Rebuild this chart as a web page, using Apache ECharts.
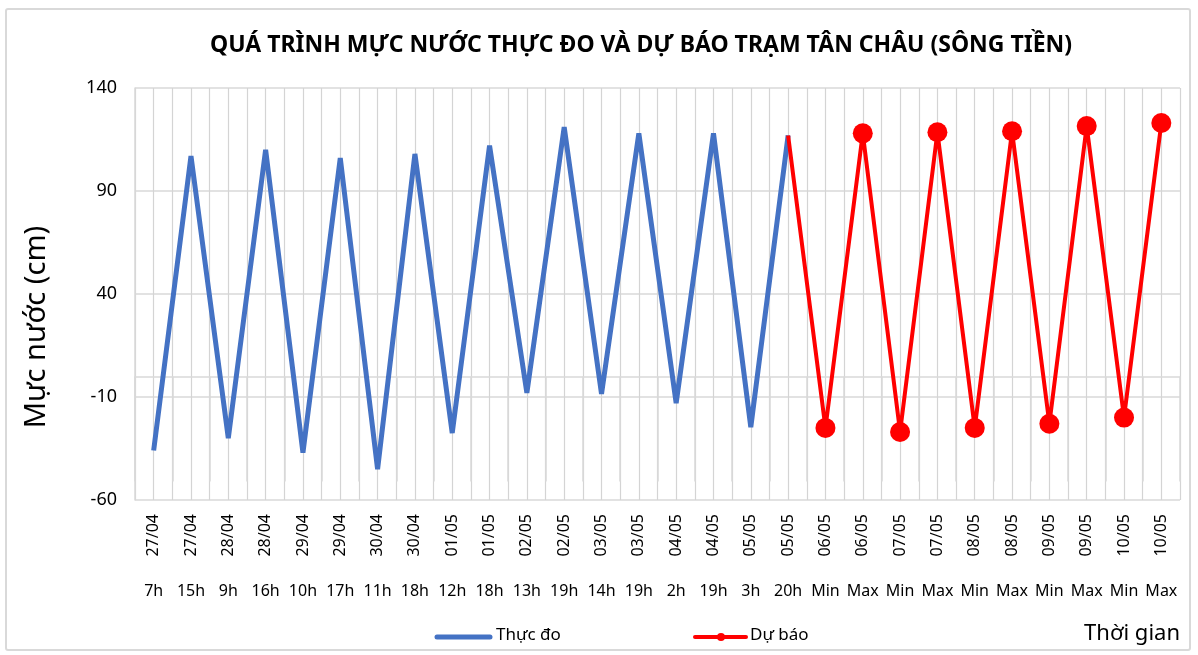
<!DOCTYPE html>
<html><head><meta charset="utf-8">
<script src="https://cdn.jsdelivr.net/npm/echarts@6/dist/echarts.min.js"></script>
<style>
html,body{margin:0;padding:0;background:#fff;}
#c{width:1198px;height:655px;}
#b{position:absolute;left:5px;top:8px;width:1186px;height:643px;border:2px solid #d9d9d9;border-radius:3px;pointer-events:none;box-sizing:border-box;}
</style></head>
<body><div id="c"></div><div id="b"></div>
<script>
var dates = ['27/04','27/04','28/04','28/04','29/04','29/04','30/04','30/04','01/05','01/05','02/05','02/05','03/05','03/05','04/05','04/05','05/05','05/05','06/05','06/05','07/05','07/05','08/05','08/05','09/05','09/05','10/05','10/05'];
var hours = ['7h','15h','9h','16h','10h','17h','11h','18h','12h','18h','13h','19h','14h','19h','2h','19h','3h','20h','Min','Max','Min','Max','Min','Max','Min','Max','Min','Max'];
var observed = [-36,107,-30,110,-37,106,-45,108,-27.5,112,-8,121,-8.5,118,-13,118,-24.6,117];
var forecast = [-25,118,-27,118.5,-25,119,-23,121.5,-20,123];
var yTicks = {min:-60, max:140, step:50};

var cats = dates.map(function(d,i){return String(i);});
var halfCats = [];
for (var k=0;k<dates.length*2;k++) halfCats.push(String(k));
var obsData = observed.slice();
var fcData = [];
for (var i=0;i<observed.length-1;i++) fcData.push(null);
fcData.push({value: observed[observed.length-1], symbol:'none'});
forecast.forEach(function(v){fcData.push(v);});

var font = 'Noto Sans';
var chart = echarts.init(document.getElementById('c'));
chart.setOption({
  animation:false,
  title:{text:'QUÁ TRÌNH MỰC NƯỚC THỰC ĐO VÀ DỰ BÁO TRẠM TÂN CHÂU (SÔNG TIỀN)', left:205, top:29,
    textStyle:{fontFamily:font, fontWeight:'bold', fontSize:23, color:'#000'}},
  grid:{left:135, right:18, top:88, bottom:155, containLabel:false},
  legend:{show:false, data:['Thực đo','Dự báo']},
  graphic:[
    {type:'text', right:18, top:623, style:{text:'Thời gian', fontFamily:font, fontSize:22, fill:'#000'}},
    {type:'text', x:37, y:327, rotation:Math.PI/2, style:{text:'Mực nước (cm)', fontFamily:font, fontSize:29, fill:'#000', textAlign:'center', textVerticalAlign:'middle'}},
    {type:'line', shape:{x1:437, y1:637, x2:490, y2:637}, style:{stroke:'#4472C4', lineWidth:5, lineCap:'round'}},
    {type:'text', left:496, top:627, style:{text:'Thực đo', fontFamily:font, fontSize:17, fill:'#000'}},
    {type:'line', shape:{x1:695, y1:637, x2:746, y2:637}, style:{stroke:'#ff0000', lineWidth:4, lineCap:'round'}},
    {type:'circle', shape:{cx:721, cy:637, r:4}, style:{fill:'#ff0000'}},
    {type:'text', left:750, top:627, style:{text:'Dự báo', fontFamily:font, fontSize:17, fill:'#000'}}
  ],
  xAxis:[
    {type:'category', data:cats, boundaryGap:true, position:'bottom',
     axisLine:{lineStyle:{color:'#d9d9d9', width:1.5}},
     axisTick:{show:true, interval:0, length:105, lineStyle:{color:'#d9d9d9', width:1.5}},
     axisLabel:{interval:0, rotate:90, margin:14, fontFamily:font, fontSize:16, color:'#000',
       formatter:function(v){return dates[+v];}},
     splitLine:{show:false}},
    {type:'category', data:cats, boundaryGap:true, position:'bottom',
     axisLine:{show:false}, axisTick:{show:false},
     axisLabel:{interval:0, margin:83, fontFamily:font, fontSize:16, color:'#000',
       formatter:function(v){return hours[+v];}},
     splitLine:{show:false}},
    {type:'category', data:halfCats, boundaryGap:true, position:'top',
     axisLine:{show:false}, axisTick:{show:false}, axisLabel:{show:false},
     splitLine:{show:true, interval:0, lineStyle:{color:'#d4d4d4', width:1.2}}}
  ],
  yAxis:{type:'value', min:yTicks.min, max:yTicks.max, interval:yTicks.step,
    axisLine:{show:true, lineStyle:{color:'#d9d9d9', width:1.5}}, axisTick:{show:false},
    axisLabel:{fontFamily:font, fontSize:18, color:'#000', margin:18},
    splitLine:{show:true, lineStyle:{color:'#d9d9d9', width:1.5}}},
  series:[
    {name:'Thực đo', type:'line', xAxisIndex:0, data:obsData, symbol:'none',
     lineStyle:{color:'#4472C4', width:5}, itemStyle:{color:'#4472C4'}, z:2},
    {name:'Dự báo', type:'line', xAxisIndex:0, data:fcData, symbol:'circle', symbolSize:20,
     lineStyle:{color:'#ff0000', width:4}, itemStyle:{color:'#ff0000'}, z:3}
  ]
});
</script></body></html>
